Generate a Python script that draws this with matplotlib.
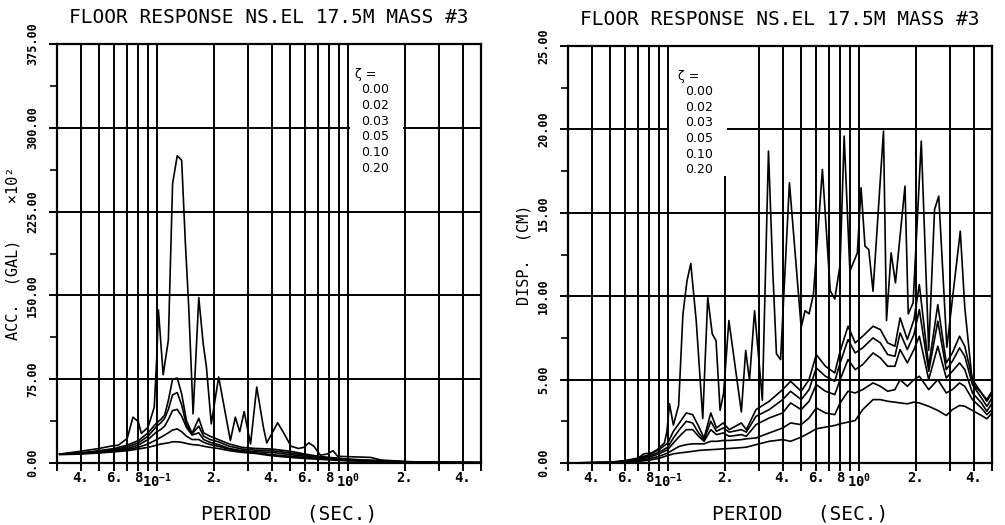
import numpy as np
import matplotlib.pyplot as plt
from matplotlib.ticker import FixedLocator, FixedFormatter, NullLocator
from matplotlib.patches import Rectangle

plt.rcParams['font.family'] = ['DejaVu Sans Mono', 'DejaVu Sans']
plt.rcParams['mathtext.fontset'] = 'custom'
plt.rcParams['mathtext.rm'] = 'DejaVu Sans Mono'
plt.rcParams['mathtext.bf'] = 'DejaVu Sans Mono:bold'

# --- damping ratios (legend) ---
zetas = ['0.00', '0.02', '0.03', '0.05', '0.10', '0.20']

# --- ACC. (GAL) x10^2, undamped curve ---
acc_T0 = [0.031, 0.038, 0.05, 0.057, 0.063, 0.07, 0.075, 0.08, 0.083, 0.09,
          0.097, 0.1, 0.102, 0.108, 0.115, 0.121, 0.128, 0.135, 0.141, 0.147,
          0.155, 0.166, 0.175, 0.182, 0.193, 0.211, 0.243, 0.258, 0.272, 0.287,
          0.31, 0.334, 0.362, 0.377, 0.43, 0.462, 0.505, 0.553, 0.589, 0.626,
          0.665, 0.72, 0.78, 0.838, 0.886, 1.04, 1.32, 1.49, 2.05, 3.1, 5.0]
acc_z000 = [8, 10, 13, 15, 16, 22, 41, 37, 26.5, 32,
            50, 95, 137, 79, 110, 250, 275, 271, 199, 140,
            44, 148, 107, 86, 35, 77, 20, 41, 28, 46,
            17, 68, 32, 18, 36, 27, 15, 13, 14, 18,
            15, 7, 8, 11, 6, 5.6, 5, 2.7, 1.2, 0.6, 0.5]

# --- ACC. damped curves ---
acc_T = [0.031, 0.04, 0.05, 0.06, 0.07, 0.08, 0.09, 0.1, 0.105, 0.11, 0.115,
         0.121, 0.128, 0.135, 0.143, 0.153, 0.166, 0.176, 0.19, 0.21, 0.24,
         0.28, 0.33, 0.4, 0.5, 0.6, 0.7, 0.8, 1.0, 1.3, 1.6, 2.0, 3.0, 4.0, 5.0]
acc_z002 = [8, 9, 11, 13, 16, 20, 27, 36, 39, 43, 56, 75, 76, 62, 38, 26.5, 40, 27,
            24, 21, 17, 14, 13, 12.5, 10.5, 8, 6, 5, 3.5, 2.5, 1.8, 1.2, 0.6, 0.4, 0.3]
acc_z003 = [8, 9, 10.5, 12, 14.5, 18, 24, 33, 36, 40, 48, 61, 63, 52, 34, 26, 33, 24,
            21, 19, 15, 12.5, 11.5, 11, 9, 7, 5.5, 4.5, 3.2, 2.3, 1.6, 1.1, 0.6, 0.4, 0.3]
acc_z005 = [8, 8.5, 10, 11.5, 13, 16, 21, 28, 30, 33, 39, 47, 48, 42, 32, 25, 27, 21,
            18.5, 16.5, 13, 11, 10, 9.5, 7.5, 6, 5, 4, 2.8, 2, 1.4, 1, 0.5, 0.4, 0.3]
acc_z010 = [8, 8.5, 9.5, 10.5, 12, 14, 17, 21, 23, 25, 27, 29.5, 30.5, 28, 24, 21, 21, 18.5,
            16.5, 15, 12, 10, 9, 7.5, 6, 5, 4, 3.4, 2.3, 1.6, 1.2, 0.8, 0.5, 0.35, 0.3]
acc_z020 = [7.5, 8, 9, 10, 11, 12.5, 14, 16, 17, 17.5, 18, 19, 19, 18.5, 17.5, 16.5, 16, 15,
            14, 13, 11, 9.5, 8.5, 6.5, 5, 4, 3.4, 2.8, 2, 1.4, 1, 0.7, 0.4, 0.3, 0.3]

# --- DISP. (CM), undamped curve ---
disp_T0 = [0.03, 0.05, 0.06, 0.068, 0.075, 0.082, 0.088, 0.096, 0.099, 0.102,
           0.107, 0.114, 0.12, 0.126, 0.132, 0.141, 0.1525, 0.162, 0.171, 0.179,
           0.188, 0.196, 0.209, 0.243, 0.256, 0.268, 0.285, 0.313, 0.337, 0.355,
           0.371, 0.39, 0.434, 0.5, 0.524, 0.55, 0.58, 0.646, 0.71, 0.75,
           0.8, 0.84, 0.9, 0.985, 1.03, 1.08, 1.13, 1.19, 1.35, 1.4,
           1.48, 1.56, 1.75, 1.82, 1.93, 2.13, 2.33, 2.5, 2.63, 2.9,
           3.41, 3.6, 3.95, 4.4, 4.7, 5.0]
disp_z000 = [0.0, 0.03, 0.1, 0.2, 0.55, 0.6, 0.8, 1.2, 1.9, 3.56,
             2.27, 3.46, 8.9, 10.9, 11.96, 8.5, 2.67, 9.93, 7.74, 7.34,
             3.16, 4.16, 8.54, 3.06, 6.75, 4.96, 9.13, 3.76, 18.7, 11.5,
             6.55, 6.2, 16.8, 8.14, 9.13, 8.94, 10.13, 17.6, 10.33, 9.83,
             11.9, 19.6, 11.5, 12.6, 16.5, 13.0, 12.8, 10.3, 19.9, 8.54,
             12.6, 10.8, 16.6, 8.94, 9.6, 19.3, 6.75, 15.2, 16.0, 6.94,
             13.9, 9.33, 4.76, 4.2, 3.8, 4.3]

# --- DISP. damped curves ---
disp_T = [0.03, 0.05, 0.06, 0.07, 0.08, 0.09, 0.1, 0.107, 0.115, 0.125,
          0.135, 0.145, 0.155, 0.168, 0.18, 0.195, 0.21, 0.243, 0.258, 0.29,
          0.34, 0.4, 0.44, 0.5, 0.55, 0.6, 0.67, 0.75, 0.8, 0.88,
          0.96, 1.05, 1.19, 1.3, 1.42, 1.55, 1.65, 1.8, 1.95, 2.08,
          2.33, 2.6, 2.88, 3.1, 3.38, 3.6, 3.95, 4.4, 4.7, 5.0]
disp_z002 = [0.0, 0.05, 0.15, 0.3, 0.5, 0.8, 1.2, 1.9, 2.4, 3.0,
             2.9, 2.2, 1.5, 3.0, 2.1, 2.4, 2.0, 2.4, 2.0, 3.2,
             3.7, 4.4, 4.9, 4.3, 5.0, 6.5, 5.8, 5.4, 6.7, 8.2,
             7.2, 7.6, 8.2, 8.0, 7.2, 7.0, 8.7, 7.4, 8.6, 10.7,
             5.8, 9.5, 6.0, 6.6, 7.6, 7.0, 5.0, 4.2, 3.7, 4.2]
disp_z003 = [0.0, 0.04, 0.12, 0.25, 0.42, 0.65, 0.95, 1.5, 2.0, 2.5,
             2.4, 1.8, 1.4, 2.5, 1.9, 2.1, 1.85, 2.0, 1.85, 2.8,
             3.2, 3.8, 4.3, 3.8, 4.4, 5.7, 5.2, 4.9, 6.0, 7.4,
             6.6, 6.9, 7.5, 7.2, 6.5, 6.4, 7.8, 6.8, 7.7, 9.2,
             5.5, 8.5, 5.6, 6.1, 6.9, 6.4, 4.7, 3.9, 3.4, 3.9]
disp_z005 = [0.0, 0.03, 0.1, 0.2, 0.35, 0.55, 0.8, 1.2, 1.6, 2.0,
             2.0, 1.6, 1.3, 2.0, 1.7, 1.8, 1.6, 1.7, 1.6, 2.3,
             2.7, 3.0, 3.6, 3.2, 3.7, 4.7, 4.3, 4.1, 5.0, 6.2,
             5.6, 5.9, 6.6, 6.3, 5.8, 5.8, 6.8, 6.0, 6.8, 7.6,
             5.0, 7.0, 5.1, 5.5, 6.0, 5.6, 4.2, 3.6, 3.1, 3.6]
disp_z010 = [0.0, 0.02, 0.07, 0.15, 0.25, 0.4, 0.6, 0.8, 1.0, 1.1,
             1.15, 1.15, 1.15, 1.3, 1.3, 1.35, 1.35, 1.4, 1.45, 1.5,
             1.8, 2.1, 2.4, 2.3, 2.7, 3.3, 3.0, 2.9, 3.6, 4.3,
             4.2, 4.4, 4.8, 4.6, 4.3, 4.4, 5.0, 4.6, 5.0, 5.2,
             4.4, 5.0, 4.2, 4.4, 4.8, 4.6, 3.8, 3.3, 2.9, 3.2]
disp_z020 = [0.0, 0.01, 0.04, 0.1, 0.17, 0.28, 0.45, 0.55, 0.6, 0.65,
             0.7, 0.75, 0.78, 0.8, 0.82, 0.85, 0.87, 0.92, 0.95, 1.1,
             1.3, 1.4, 1.3, 1.55, 1.8, 2.05, 2.15, 2.25, 2.35, 2.45,
             2.55, 3.2, 3.8, 3.8, 3.7, 3.65, 3.6, 3.55, 3.65, 3.6,
             3.4, 3.15, 2.85, 3.2, 3.45, 3.4, 3.15, 2.85, 2.65, 3.0]

# period grid lines and their labels
grid_T = [0.03, 0.04, 0.05, 0.06, 0.07, 0.08, 0.09,
          0.1, 0.2, 0.3, 0.4, 0.5, 0.6, 0.7, 0.8, 0.9,
          1.0, 2.0, 3.0, 4.0, 5.0]
grid_lab = ['', '4.', '', '6.', '', '8', '',
            r'$\mathbf{10^{-1}}$', '2.', '', '4.', '', '6.', '', '8', '',
            r'$\mathbf{10^{0}}$', '2.', '', '4.', '']

title = 'FLOOR RESPONSE NS.EL 17.5M MASS #3'

fig = plt.figure(figsize=(10.05, 5.25), dpi=100)
ax1 = fig.add_axes([57 / 1005, 62 / 525, 424 / 1005, 419 / 525])
ax2 = fig.add_axes([568 / 1005, 62 / 525, 424 / 1005, 417 / 525])


def setup(ax, ymax, ystep, ylabel, ylab_x, box, zeta_x, val_x):
    ax.set_xscale('log')
    ax.set_xlim(0.03, 5.0)
    ax.set_ylim(0, ymax)
    ax.xaxis.set_major_locator(FixedLocator(grid_T))
    ax.xaxis.set_major_formatter(FixedFormatter(grid_lab))
    ax.xaxis.set_minor_locator(NullLocator())
    yt = np.arange(0, ymax + 1e-9, ystep)
    ax.set_yticks(yt)
    ax.set_yticklabels(['%.2f' % v for v in yt], rotation=90, va='center')
    ax.set_yticks(yt[:-1] + ystep / 2, minor=True)
    ax.tick_params(axis='x', direction='out', length=6, width=1.4, pad=0,
                   labelsize=10)
    ax.tick_params(axis='y', which='major', direction='out', length=6, width=1.4,
                   pad=7, labelsize=8.5)
    ax.tick_params(axis='y', which='minor', direction='out', length=5, width=1.2)
    for lab in ax.get_xticklabels() + ax.get_yticklabels():
        lab.set_fontweight('bold')
    ax.grid(True, which='major', color='black', lw=1.4)
    ax.set_axisbelow(True)
    for s in ax.spines.values():
        s.set_linewidth(1.6)
    ax.set_title(title, fontsize=14, pad=15)
    ax.set_xlabel('PERIOD   (SEC.)', fontsize=14)
    ax.xaxis.set_label_coords(0.547, -0.10)
    ax.set_ylabel(ylabel, fontsize=11)
    ax.yaxis.set_label_coords(ylab_x, 0.5)
    # white area behind the damping legend
    ax.add_patch(Rectangle((box[0], box[1]), box[2], box[3], transform=ax.transAxes,
                           facecolor='white', edgecolor='none', zorder=1))
    ax.text(zeta_x, 0.927, 'ζ =', transform=ax.transAxes, fontsize=9,
            family='DejaVu Sans', ha='left', va='center', zorder=3)
    for i, z in enumerate(zetas):
        ax.text(val_x, 0.891 - i * 0.0375, z, transform=ax.transAxes, fontsize=9,
                family='DejaVu Sans', ha='right', va='center', zorder=3)


setup(ax1, 375, 75, 'ACC.  (GAL)    ×10²', -0.086, (0.69, 0.72, 0.125, 0.28),
      0.703, 0.783)
setup(ax2, 25, 5, 'DISP.  (CM)', -0.086, (0.238, 0.688, 0.137, 0.312),
      0.259, 0.342)

lw = 1.2
ax1.plot(acc_T0, acc_z000, color='black', lw=lw, zorder=2)
for y in [acc_z002, acc_z003, acc_z005, acc_z010, acc_z020]:
    ax1.plot(acc_T, y, color='black', lw=lw, zorder=2)

ax2.plot(disp_T0, disp_z000, color='black', lw=lw, zorder=2)
for y in [disp_z002, disp_z003, disp_z005, disp_z010, disp_z020]:
    ax2.plot(disp_T, y, color='black', lw=lw, zorder=2)

fig.savefig('out.png', dpi=100)
